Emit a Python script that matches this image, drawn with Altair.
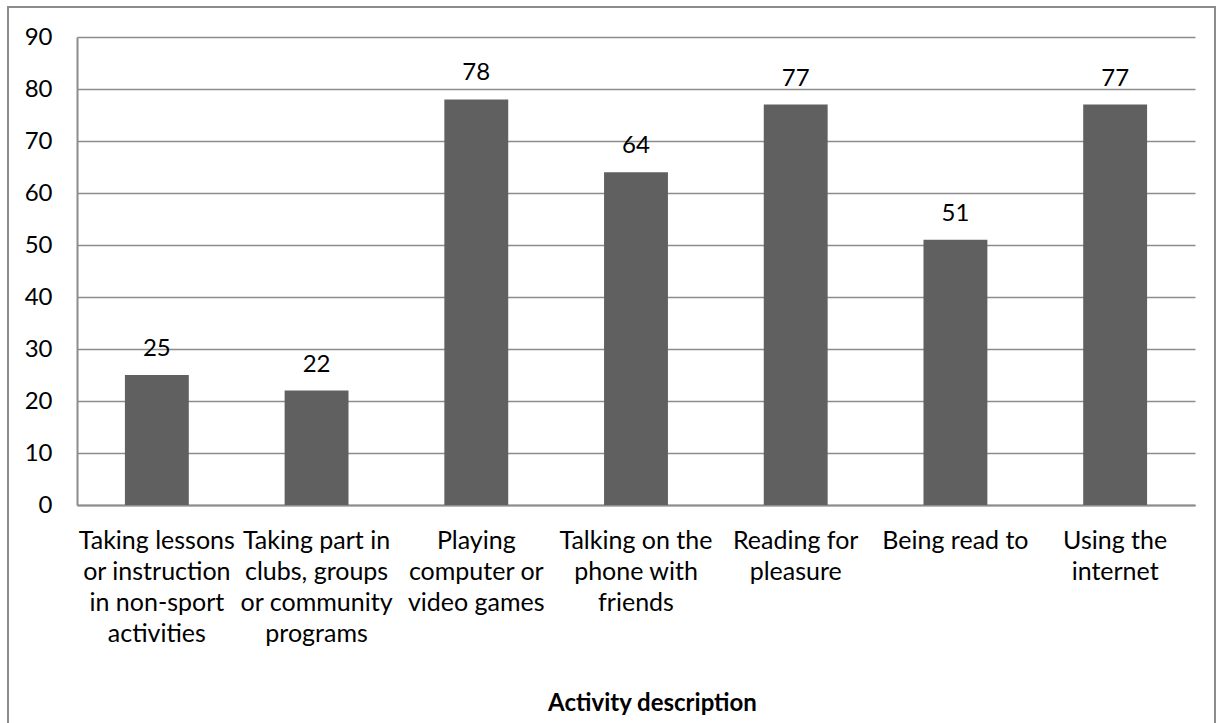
import altair as alt
import pandas as pd

# Share of children taking part in each activity
activities = [
    "Taking lessons|or instruction|in non-sport|activities",
    "Taking part in|clubs, groups|or community|programs",
    "Playing|computer or|video games",
    "Talking on the|phone with|friends",
    "Reading for|pleasure",
    "Being read to",
    "Using the|internet",
]
values = [25, 22, 78, 64, 77, 51, 77]
y_ticks = list(range(0, 100, 10))

df = pd.DataFrame({"activity": activities, "value": values})

FONT = "Lato"
GREY = "#8c8c8c"
PLOT_W, PLOT_H = 1118, 468

x_enc = alt.X(
    "activity:N",
    sort=activities,
    scale=alt.Scale(paddingInner=0.6, paddingOuter=0.3),
    axis=alt.Axis(
        title="Activity description",
        labelExpr="split(datum.label, '|')",
        labelAngle=0,
        labelFont=FONT,
        labelFontSize=25,
        labelColor="#000000",
        labelLineHeight=31,
        labelBaseline="top",
        labelPadding=23,
        labelLimit=0,
        ticks=False,
        domainColor=GREY,
        domainWidth=2,
        titleFont=FONT,
        titleFontSize=24,
        titleFontWeight="bold",
        titleColor="#000000",
        titlePadding=45,
        titleX=575,
        grid=False,
    ),
)
y_enc = alt.Y(
    "value:Q",
    scale=alt.Scale(domain=[0, 90], nice=False),
    axis=alt.Axis(
        title=None,
        values=y_ticks,
        labelFont=FONT,
        labelFontSize=24,
        labelColor="#000000",
        labelPadding=25,
        ticks=False,
        tickSize=0,
        domainColor=GREY,
        domainWidth=2,
        gridColor=GREY,
        gridWidth=1.5,
    ),
)

bars = alt.Chart(df).mark_bar(color="#606060").encode(x=x_enc, y=y_enc)

labels = alt.Chart(df).mark_text(
    font=FONT, fontSize=24, color="#000000", baseline="alphabetic", dy=-19
).encode(x=alt.X("activity:N", sort=activities), y="value:Q", text="value:Q")

# Outer border around the whole chart
frame = alt.Chart(df).mark_rect(
    fill=None, stroke=GREY, strokeWidth=2, clip=False
).encode(
    x=alt.value(-69), x2=alt.value(1138), y=alt.value(-30), y2=alt.value(700)
)

chart = (
    alt.layer(bars, labels, frame)
    .properties(
        width=PLOT_W,
        height=PLOT_H,
        autosize=alt.AutoSizeParams(type="none"),
        padding={"left": 77, "top": 37, "right": 30, "bottom": 218},
        background="#ffffff",
    )
    .configure_view(stroke=None)
)

chart.save("out.html", embed_options={"renderer": "svg", "actions": False})
